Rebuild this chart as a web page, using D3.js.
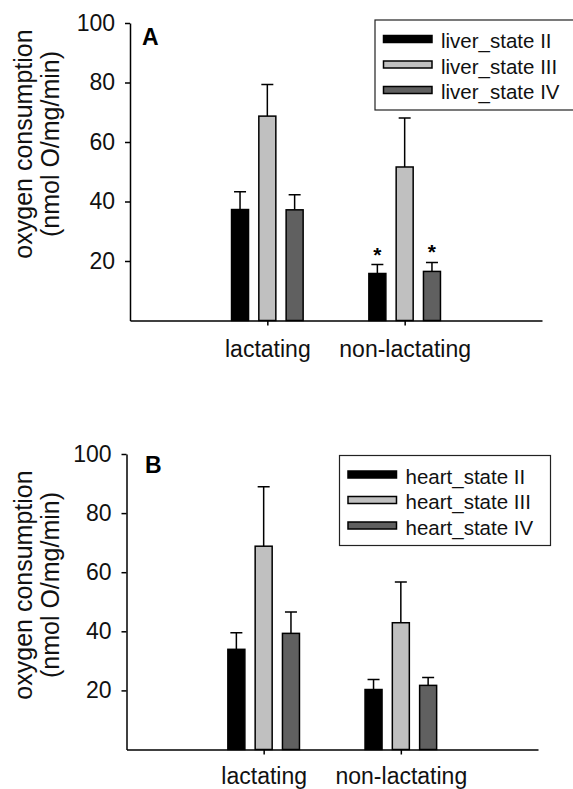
<!DOCTYPE html>
<html lang="en">
<head>
  <meta charset="UTF-8" />
  <title>Oxygen consumption - liver and heart</title>
  <script src="https://d3js.org/d3.v7.min.js"></script>
  <style>
    body {
      margin: 0;
      background-color: #ffffff;
      font-family: 'Liberation Sans', Arial, sans-serif;
    }
    svg {
      display: block;
    }
    .axis path, .axis line {
      stroke: #000;
      stroke-width: 1.5px;
    }
    .axis text {
      fill: #111;
      font-family: 'Liberation Sans', Arial, sans-serif;
    }
  </style>
</head>
<body>
  <svg width="573" height="789"></svg>
  <script>
    // data
    const groups = ["lactating", "non-lactating"];
    const yTicks = [20, 40, 60, 80, 100];
    const yTitle = ["oxygen consumption", "(nmol O/mg/min)"];

    const liverSeries = ["liver_state II", "liver_state III", "liver_state IV"];
    // one row per series, one value per group (lactating, non-lactating)
    const liverMean = [[37.3, 15.8], [68.7, 51.6], [37.2, 16.5]];
    const liverSE   = [[6.0, 3.0], [10.6, 16.5], [5.1, 3.0]];
    const liverSig  = [[false, true], [false, false], [false, true]];

    const heartSeries = ["heart_state II", "heart_state III", "heart_state IV"];
    const heartMean = [[33.9, 20.3], [68.8, 42.9], [39.3, 21.7]];
    const heartSE   = [[5.6, 3.4], [20.1, 13.8], [7.2, 2.7]];
    const heartSig  = [[false, false], [false, false], [false, false]];

    const colors = ["#000000", "#c0c0c0", "#606060"];

    const svg = d3.select("svg");

    const panels = [
      { label: "A", series: liverSeries, mean: liverMean, se: liverSE, sig: liverSig,
        x0: 130, x1: 542, yTop: 23, yBot: 320.5, labelX: 142, labelY: 45,
        legX: 375, legY: 20, titleY: 144, xPad: 15 },
      { label: "B", series: heartSeries, mean: heartMean, se: heartSE, sig: heartSig,
        x0: 126.5, x1: 538, yTop: 454, yBot: 749.5, labelX: 145, labelY: 473,
        legX: 339.5, legY: 455.5, titleY: 585, xPad: 13 }
    ];

    panels.forEach(p => drawPanel(p));

    function drawPanel(p) {
      const g = svg.append("g");

      const x = d3.scalePoint()
        .domain(groups)
        .range([p.x0, p.x1])
        .padding(1);

      const xs = d3.scaleBand()
        .domain(p.series)
        .range([-35.8, 35.8])
        .paddingInner(0.377);

      const y = d3.scaleLinear()
        .domain([0, 100])
        .range([p.yBot, p.yTop]);

      const rows = [];
      p.series.forEach((s, i) => {
        groups.forEach((grp, j) => {
          rows.push({ series: s, i, group: grp, mean: p.mean[i][j], se: p.se[i][j], sig: p.sig[i][j] });
        });
      });

      // bars
      g.selectAll(".bar")
        .data(rows)
        .enter()
        .append("rect")
        .attr("class", "bar")
        .attr("x", d => x(d.group) + xs(d.series))
        .attr("y", d => y(d.mean))
        .attr("width", xs.bandwidth())
        .attr("height", d => y(0) - y(d.mean))
        .attr("fill", d => colors[d.i])
        .attr("stroke", "#000")
        .attr("stroke-width", 1.5);

      // error bars (upper only)
      const cx = d => x(d.group) + xs(d.series) + xs.bandwidth() / 2;
      g.selectAll(".err")
        .data(rows)
        .enter()
        .append("path")
        .attr("class", "err")
        .attr("fill", "none")
        .attr("stroke", "#000")
        .attr("stroke-width", 1.5)
        .attr("d", d => {
          const c = cx(d), t = y(d.mean + d.se);
          return `M${c},${y(d.mean)}V${t}M${c - 6},${t}H${c + 6}`;
        });

      // significance stars
      g.selectAll(".star")
        .data(rows.filter(d => d.sig))
        .enter()
        .append("text")
        .attr("class", "star")
        .attr("x", cx)
        .attr("y", d => y(d.mean + d.se) - 3)
        .attr("text-anchor", "middle")
        .style("font-size", "21px")
        .style("font-weight", "bold")
        .text("*");

      // axes
      const yAxis = g.append("g")
        .attr("class", "axis")
        .attr("transform", `translate(${p.x0},0)`)
        .call(d3.axisLeft(y).tickValues(yTicks).tickSize(5).tickSizeOuter(0).tickPadding(10));
      yAxis.selectAll("text").style("font-size", "23px");

      const xAxis = g.append("g")
        .attr("class", "axis")
        .attr("transform", `translate(0,${p.yBot})`)
        .call(d3.axisBottom(x).tickSize(5).tickSizeOuter(0).tickPadding(p.xPad));
      xAxis.selectAll("text").style("font-size", "23px");

      // axis title
      const title = g.append("text")
        .attr("transform", `translate(0,${p.titleY}) rotate(-90)`)
        .attr("text-anchor", "middle")
        .style("font-size", "25px")
        .style("fill", "#111");
      title.append("tspan").attr("x", 0).attr("y", 32).text(yTitle[0]);
      title.append("tspan").attr("x", 0).attr("y", 59).text(yTitle[1]);

      // panel letter
      g.append("text")
        .attr("x", p.labelX)
        .attr("y", p.labelY)
        .style("font-size", "23px")
        .style("font-weight", "bold")
        .text(p.label);

      // legend
      const leg = g.append("g").attr("transform", `translate(${p.legX},${p.legY})`);
      leg.append("rect")
        .attr("width", 211)
        .attr("height", 90)
        .attr("fill", "#fff")
        .attr("stroke", "#222")
        .attr("stroke-width", 1.2);

      const item = leg.selectAll(".item")
        .data(p.series)
        .enter()
        .append("g")
        .attr("class", "item")
        .attr("transform", (d, i) => `translate(8.5,${19 + i * 25.5})`);

      item.append("rect")
        .attr("y", -3.5)
        .attr("width", 48.5)
        .attr("height", 7)
        .attr("fill", (d, i) => colors[i])
        .attr("stroke", "#000")
        .attr("stroke-width", 1.5);

      item.append("text")
        .attr("x", 57.5)
        .attr("y", 9)
        .style("font-size", "20.5px")
        .style("fill", "#111")
        .text(d => d);
    }
  </script>
</body>
</html>
